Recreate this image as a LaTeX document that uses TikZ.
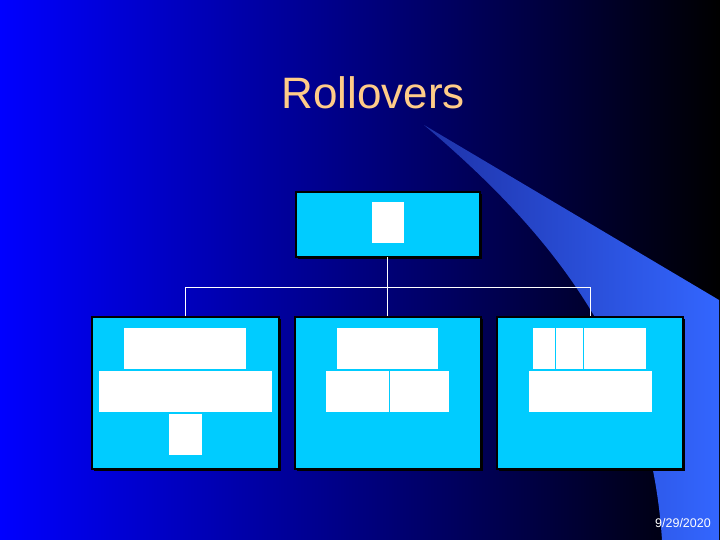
\documentclass[tikz,border=0pt]{standalone}
\usepackage{fontspec}
\setmainfont{Liberation Sans}
\definecolor{boxcyan}{HTML}{00CCFF}
\definecolor{swoosh}{HTML}{3366FF}
\definecolor{swooshdark}{HTML}{1E32A8}
\definecolor{titlecol}{HTML}{FFCC88}
\definecolor{bgblue}{HTML}{0000FF}
\tikzset{
  panel/.style={draw=black, line width=1.5pt, fill=boxcyan},
  panelshadow/.style={fill=black},
  blank/.style={fill=white},
  wire/.style={draw=white, line width=0.9pt},
}
\begin{document}
\begin{tikzpicture}[x=1pt,y=-1pt]
\useasboundingbox (0,0) rectangle (720,540);
% background
\shade[left color=bgblue, right color=black] (0,0) rectangle (720,540);
% swoosh
\shade[left color=swooshdark, middle color=swoosh, right color=swoosh]
  (424,125) -- (719,300) -- (719,540) -- (662,540)
  .. controls (650,360) and (560,240) .. (424,125) -- cycle;
% title
\node[anchor=base, text=titlecol, font=\fontsize{44}{50}\selectfont, inner sep=0pt] (title) at (373,109) {Rollovers};
% top panel
\fill[panelshadow] (298,194) rectangle (482,259);
\draw[panel] (296,192) rectangle (480,257);
\coordinate (topb) at (387,257);
\fill[blank] (372,202) rectangle (404,243);
% bottom panels
\fill[panelshadow] (94,319) rectangle (281,471);
\draw[panel] (92,317) rectangle (279,469);
\fill[panelshadow] (297,319) rectangle (483,471);
\draw[panel] (295,317) rectangle (481,469);
\fill[panelshadow] (499,319) rectangle (685,471);
\draw[panel] (497,317) rectangle (683,469);
% connectors
\coordinate (jc) at (387,287);
\coordinate (jl) at (185,287);
\coordinate (jr) at (590,287);
\coordinate (lt) at (185,316);
\coordinate (mt) at (387,316);
\coordinate (rt) at (590,316);
\draw[wire] (topb) -- (jc);
\draw[wire] (lt) -- (jl) -- (jr) -- (rt);
\draw[wire] (jc) -- (mt);
% left panel contents
\fill[blank] (124,328) rectangle (246,369);
\fill[blank] (99,371) rectangle (272,412);
\fill[blank] (169,414) rectangle (202,455);
% middle panel contents
\fill[blank] (337,328) rectangle (438,369);
\fill[blank] (326,371) rectangle (389,412);
\fill[blank] (390,371) rectangle (449,412);
% right panel contents
\fill[blank] (533,328) rectangle (555,369);
\fill[blank] (556,328) rectangle (583,369);
\fill[blank] (584,328) rectangle (646,369);
\fill[blank] (529,371) rectangle (652,412);
% date
\node[anchor=base east, text=white, font=\fontsize{12.5}{14}\selectfont, inner sep=0pt] (date) at (711,527) {9/29/2020};
\end{tikzpicture}
\end{document}
